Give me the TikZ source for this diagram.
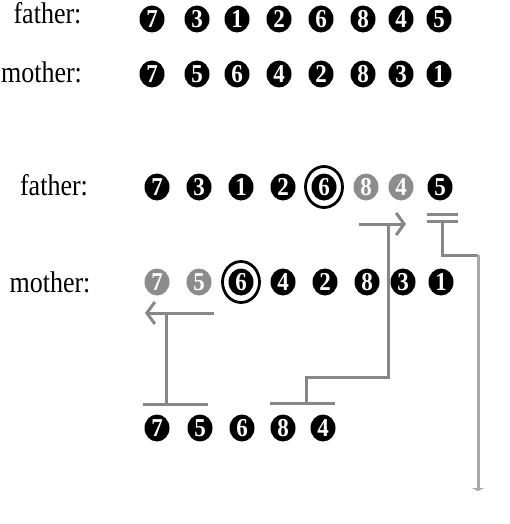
\documentclass[tikz,border=0pt]{standalone}
\usepackage{fontspec}
\setmainfont{Liberation Serif}
\usetikzlibrary{shapes.geometric,arrows.meta}
\definecolor{ln}{HTML}{878787}
\definecolor{lnl}{HTML}{A8A8A8}
\definecolor{gc}{HTML}{8C8C8C}
\newcommand{\stretchtxt}[1]{\scalebox{1}[1.15]{#1}}
\newcommand{\stretchdig}[1]{\scalebox{1}[1.12]{#1}}
\tikzset{
  ball/.style={ellipse, fill=black, minimum width=25pt, minimum height=27pt, inner sep=0pt,
    text=white, font=\fontsize{23}{23}\selectfont\bfseries},
  gball/.style={ball, fill=gc},
  lbl/.style={anchor=base, inner sep=0pt, font=\fontsize{26}{30}\selectfont},
  conn/.style={draw=ln, line width=3pt},
  connl/.style={draw=lnl, line width=3pt},
  ring/.style={draw=black, line width=2.8pt},
}
\begin{document}
\begin{tikzpicture}[x=1pt,y=-1pt]
\useasboundingbox (0,0) rectangle (510,524);
% labels
\node[lbl] (l1) at (47.5,24) {\stretchtxt{father:}};
\node[lbl] (l2) at (41.5,83) {\stretchtxt{mother:}};
\node[lbl] (l3) at (54,195) {\stretchtxt{father:}};
\node[lbl] (l4) at (50,292) {\stretchtxt{mother:}};
% row 1
\node[ball] (a1) at (152,19) {\stretchdig{7}};
\node[ball] (a2) at (197,19) {\stretchdig{3}};
\node[ball] (a3) at (237,19) {\stretchdig{1}};
\node[ball] (a4) at (279,19) {\stretchdig{2}};
\node[ball] (a5) at (321,19) {\stretchdig{6}};
\node[ball] (a6) at (363,19) {\stretchdig{8}};
\node[ball] (a7) at (401,19) {\stretchdig{4}};
\node[ball] (a8) at (439,19) {\stretchdig{5}};
% row 2
\node[ball] (b1) at (152,74) {\stretchdig{7}};
\node[ball] (b2) at (197,74) {\stretchdig{5}};
\node[ball] (b3) at (237,74) {\stretchdig{6}};
\node[ball] (b4) at (279,74) {\stretchdig{4}};
\node[ball] (b5) at (321,74) {\stretchdig{2}};
\node[ball] (b6) at (363,74) {\stretchdig{8}};
\node[ball] (b7) at (401,74) {\stretchdig{3}};
\node[ball] (b8) at (439,74) {\stretchdig{1}};
% row 3
\node[ball] (c1) at (157,187) {\stretchdig{7}};
\node[ball] (c2) at (199,187) {\stretchdig{3}};
\node[ball] (c3) at (241,187) {\stretchdig{1}};
\node[ball] (c4) at (283,187) {\stretchdig{2}};
\node[ball] (c5) at (324,187) {\stretchdig{6}};
\node[gball] (c6) at (366,187) {\stretchdig{8}};
\node[gball] (c7) at (401,187) {\stretchdig{4}};
\node[ball] (c8) at (440,187) {\stretchdig{5}};
\draw[ring] (c5) ellipse (18.5 and 20.5);
% row 4
\node[gball] (d1) at (157,282) {\stretchdig{7}};
\node[gball] (d2) at (199,282) {\stretchdig{5}};
\node[ball] (d3) at (241,282) {\stretchdig{6}};
\node[ball] (d4) at (283,282) {\stretchdig{4}};
\node[ball] (d5) at (325,282) {\stretchdig{2}};
\node[ball] (d6) at (367,282) {\stretchdig{8}};
\node[ball] (d7) at (403,282) {\stretchdig{3}};
\node[ball] (d8) at (441,282) {\stretchdig{1}};
\draw[ring] (d3) ellipse (18.5 and 20.5);
% child row
\node[ball] (e1) at (157,428) {\stretchdig{7}};
\node[ball] (e2) at (200,428) {\stretchdig{5}};
\node[ball] (e3) at (242,428) {\stretchdig{6}};
\node[ball] (e4) at (283,428) {\stretchdig{8}};
\node[ball] (e5) at (323,428) {\stretchdig{4}};
% coordinates for connectors
\coordinate (fs) at (359,224);
\coordinate (fe) at (406,224);
\coordinate (fj) at (388,224);
\coordinate (fk) at (388,377);
\coordinate (fm) at (306,377);
\coordinate (fb) at (306,403);
\coordinate (fbl) at (270,403);
\coordinate (fbr) at (335,403);
\coordinate (ms) at (214,313);
\coordinate (me) at (145,313);
\coordinate (mj) at (166,313);
\coordinate (mb) at (166,404);
\coordinate (mbl) at (143,404);
\coordinate (mbr) at (208,404);
\coordinate (p1l) at (427,214.5);
\coordinate (p1r) at (458,214.5);
\coordinate (p2l) at (427,221);
\coordinate (p2r) at (458,221);
\coordinate (pj) at (442,221);
\coordinate (pk) at (442,255);
\coordinate (pm) at (478,255);
\coordinate (pe) at (478,491);
% father connector
\draw[conn, -{Straight Barb[length=8pt,width=22pt]}] (fs) -- (fe);
\draw[conn] (fj) -- (fk) -- (fm) -- (fb);
\draw[conn] (fbl) -- (fbr);
% mother connector
\draw[conn, -{Straight Barb[length=8pt,width=22pt]}] (ms) -- (me);
\draw[conn] (mj) -- (mb);
\draw[conn] (mbl) -- (mbr);
% remainder connector
\draw[conn] (p1l) -- (p1r);
\draw[conn] (p2l) -- (p2r);
\draw[conn] (pj) -- (pk) -- (pm);
\draw[connl, -{Triangle[length=3pt,width=12pt]}] (pm) -- (pe);
\end{tikzpicture}
\end{document}
